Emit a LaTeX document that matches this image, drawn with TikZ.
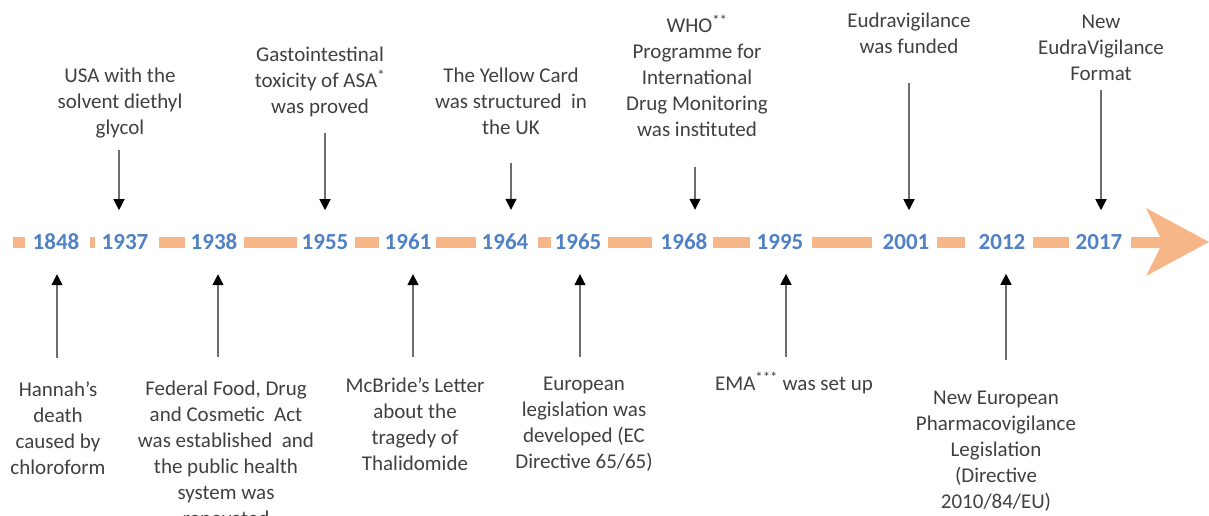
\documentclass[tikz,border=0pt]{standalone}
\usepackage{fontspec}
\setmainfont{Carlito}
\usetikzlibrary{arrows.meta}

\definecolor{barorange}{RGB}{246,182,135}
\definecolor{yearblue}{RGB}{79,129,196}
\definecolor{txtgray}{RGB}{64,64,64}
\definecolor{shaftgray}{RGB}{110,110,110}

\tikzset{
  year/.style={inner sep=0pt, text=yearblue, font=\fontsize{23}{26}\selectfont\bfseries},
  event/.style={inner sep=0pt, align=center, text=txtgray, font=\fontsize{21}{26}\selectfont},
  pin/.style={draw=shaftgray, line width=1.4pt, shorten >=24pt,
    -{Triangle[length=11pt,width=11pt,black]}},
}

\begin{document}
\begin{tikzpicture}[x=1pt,y=-1pt]
\useasboundingbox (0,0) rectangle (1209,516);

% timeline
\foreach \a/\b in {13/25, 90/95, 159/185, 244/297, 355/379, 436/476, 538/551,
  608/652, 713/750, 812/872, 937/965, 1033/1069}
  \fill [barorange] (\a,237) rectangle (\b,248);
\fill [barorange] (1131,237) -- (1160,237) -- (1146,208) -- (1209,242)
  -- (1146,276) -- (1160,248) -- (1131,248) -- cycle;

\node [year] at (56, 242) (y1848) {1848};
\node [year] at (125, 242) (y1937) {1937};
\node [year] at (214, 242) (y1938) {1938};
\node [year] at (325, 242) (y1955) {1955};
\node [year] at (408, 242) (y1961) {1961};
\node [year] at (505, 242) (y1964) {1964};
\node [year] at (578, 242) (y1965) {1965};
\node [year] at (684, 242) (y1968) {1968};
\node [year] at (780, 242) (y1995) {1995};
\node [year] at (906, 242) (y2001) {2001};
\node [year] at (1002, 242) (y2012) {2012};
\node [year] at (1099, 242) (y2017) {2017};

% events above
\node [event] at (120, 103) (l1937) {USA with the\\solvent diethyl\\glycol};
\node [event] at (320, 82) (l1955) {Gastointestinal\\toxicity of ASA\textsuperscript{*}\\was proved};
\node [event] at (511, 101) (l1964) {The Yellow Card\\was structured\ \ in\\the UK};
\node [event] at (697, 76) (l1968) {WHO\textsuperscript{**}\\Programme for\\International\\Drug Monitoring\\was instituted};
\node [event] at (909, 33) (l2001) {Eudravigilance\\was funded};
\node [event] at (1101, 48) (l2017) {New\\EudraVigilance\\Format};

% events below
\node [event] at (58, 428) (l1848) {Hannah’s\\death\\caused by\\chloroform};
\node [event] at (226, 453) (l1938) {Federal Food, Drug\\and Cosmetic\ \ Act\\was established\ \ and\\the public health\\system was\\renovated};
\node [event] at (415, 424) (l1961) {McBride’s Letter\\about the\\tragedy of\\Thalidomide};
\node [event] at (584, 424) (l1965) {European\\legislation was\\developed (EC\\Directive 65/65)};
\node [event] at (794, 383) (l1995) {EMA\textsuperscript{***} was set up};
\node [event] at (996, 451) (l2012) {New European\\Pharmacovigilance\\Legislation\\(Directive\\2010/84/EU)};

\coordinate (c1937) at (119, 150);
\coordinate (c1955) at (325, 133);
\coordinate (c1964) at (511, 163);
\coordinate (c1968) at (695, 167);
\coordinate (c2001) at (909, 83);
\coordinate (c2017) at (1101, 90);
\coordinate (c1848) at (57, 358);
\coordinate (c1938) at (218, 357);
\coordinate (c1961) at (413, 357);
\coordinate (c1965) at (580, 357);
\coordinate (c1995) at (786, 357);
\coordinate (c2012) at (1006, 360);

\draw [pin] (c1937) -- (c1937 |- y1937.north);
\draw [pin] (c1955) -- (c1955 |- y1955.north);
\draw [pin] (c1964) -- (c1964 |- y1964.north);
\draw [pin] (c1968) -- (c1968 |- y1968.north);
\draw [pin] (c2001) -- (c2001 |- y2001.north);
\draw [pin] (c2017) -- (c2017 |- y2017.north);
\draw [pin] (c1848) -- (c1848 |- y1848.south);
\draw [pin] (c1938) -- (c1938 |- y1938.south);
\draw [pin] (c1961) -- (c1961 |- y1961.south);
\draw [pin] (c1965) -- (c1965 |- y1965.south);
\draw [pin] (c1995) -- (c1995 |- y1995.south);
\draw [pin] (c2012) -- (c2012 |- y2012.south);
\end{tikzpicture}
\end{document}
